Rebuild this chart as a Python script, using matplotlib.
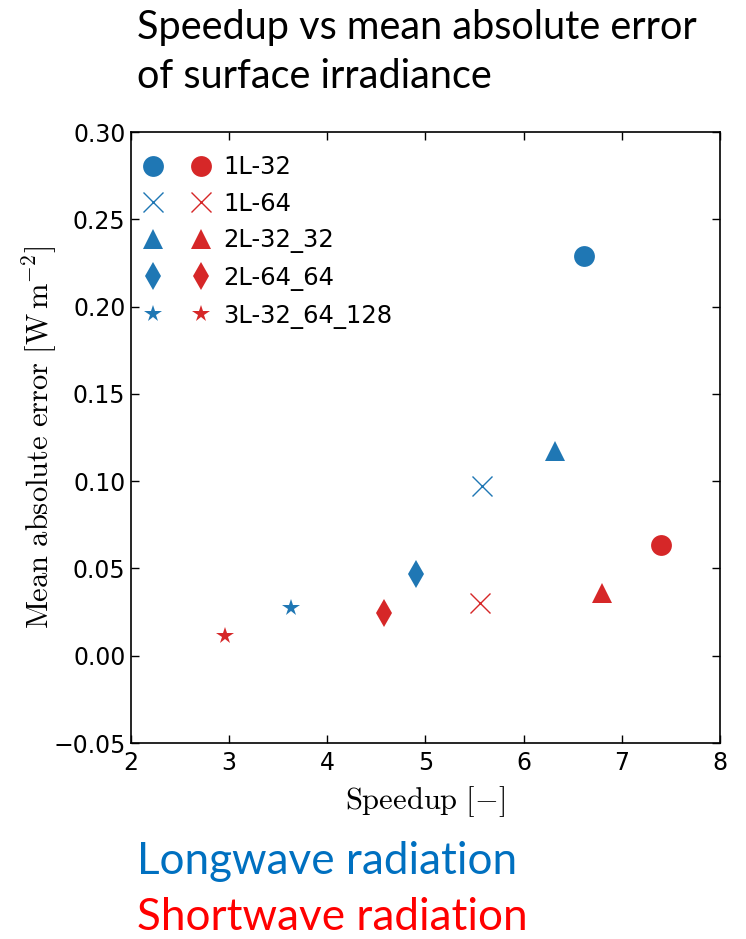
import matplotlib
matplotlib.use("Agg")
import matplotlib.pyplot as plt
from matplotlib.legend_handler import HandlerTuple

plt.rcParams['mathtext.fontset'] = 'cm'

models = ["1L-32", "1L-64", "2L-32_32", "2L-64_64", "3L-32_64_128"]
markers = ["o", "x", "^", "d", "*"]
lw_speedup = [6.62, 5.58, 6.32, 4.90, 3.63]
lw_mae = [0.229, 0.0975, 0.117, 0.047, 0.0275]
sw_speedup = [7.40, 5.56, 6.80, 4.58, 2.96]
sw_mae = [0.0636, 0.030, 0.036, 0.0245, 0.0115]

blue = "#1f77b4"
red = "#d62728"
msizes = {"o": 15, "x": 14, "^": 15, "d": 14, "*": 13}

fig = plt.figure(figsize=(7.46, 9.39), dpi=100)
ax = fig.add_axes([0.1756, 0.2087, 0.7894, 0.6507])

handles = []
for m, name, lx, ly, sx, sy in zip(markers, models, lw_speedup, lw_mae, sw_speedup, sw_mae):
    kw = dict(linestyle="none", marker=m, markersize=msizes[m])
    if m == "x":
        kw.update(markeredgewidth=1.0)
    else:
        kw.update(markeredgewidth=0)
    h1, = ax.plot([lx], [ly], color=blue, **kw)
    h2, = ax.plot([sx], [sy], color=red, **kw)
    handles.append((h1, h2))

ax.set_xlim(2, 8)
ax.set_ylim(-0.05, 0.30)
ax.set_xticks([2, 3, 4, 5, 6, 7, 8])
ax.set_yticks([-0.05, 0.0, 0.05, 0.10, 0.15, 0.20, 0.25, 0.30])
ax.set_yticklabels(["\u22120.05", "0.00", "0.05", "0.10", "0.15", "0.20", "0.25", "0.30"])
ax.tick_params(direction="in", top=True, right=True, length=6, width=1, labelsize=17)
ax.tick_params(axis="x", pad=6)
ax.tick_params(axis="y", pad=4)
for s in ax.spines.values():
    s.set_linewidth(1.2)

ax.set_xlabel(r"$\mathrm{Speedup}\ [-]$", fontsize=22, labelpad=6)
ax.set_ylabel(r"$\mathrm{Mean\ absolute\ error}\ [\mathrm{W\,m^{-2}}]$", fontsize=22, labelpad=-5)

ax.legend(handles, models, handler_map={tuple: HandlerTuple(ndivide=None, pad=1.56)},
          loc="upper left", bbox_to_anchor=(0, 1 - 6/611), frameon=False, fontsize=17.5,
          handlelength=2.39, handletextpad=0.7, labelspacing=0.52, borderaxespad=0.3,
          borderpad=0.4)

fig.text(137/746, 1 - 28/939, "Speedup vs mean absolute error", fontsize=28.5, family="Lato",
         va="center", ha="left", color="black")
fig.text(137/746, 1 - 76/939, "of surface irradiance", fontsize=28.5, family="Lato",
         va="center", ha="left", color="black")
fig.text(137/746, 1 - 862/939, "Longwave radiation", fontsize=31.7, family="Lato",
         va="center", ha="left", color="#0070c0")
fig.text(137/746, 1 - 918/939, "Shortwave radiation", fontsize=31.7, family="Lato",
         va="center", ha="left", color="#ff0000")

fig.savefig("out.png", dpi=100)
